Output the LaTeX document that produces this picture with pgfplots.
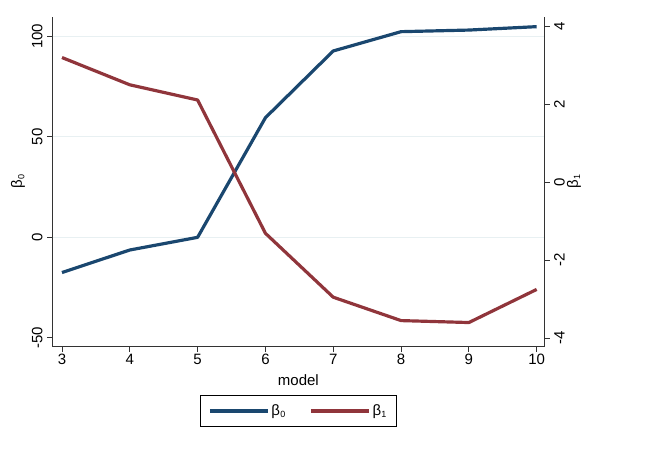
\documentclass[border=0pt]{standalone}
\usepackage{fontspec}
\setmainfont{Liberation Sans}
\usepackage{pgfplots}
\pgfplotsset{compat=1.18}
\definecolor{sblue}{RGB}{26,71,111}
\definecolor{sred}{RGB}{144,53,59}
\definecolor{sgrid}{RGB}{232,240,242}
\newcommand{\bsub}[1]{β\kern0.3bp\raisebox{-0.3ex}{\fontsize{9bp}{10bp}\selectfont #1}}
\begin{document}
\fontsize{15bp}{18bp}\selectfont
\begin{tikzpicture}
\path[use as bounding box] (0bp,0bp) rectangle (666bp,450bp);
\pgfplotsset{
  every axis/.append style={font=\fontsize{15bp}{18bp}\selectfont},
  /pgf/number format/assume math mode=true,
  common/.style={
    at={(52.7bp,103.3bp)}, anchor=south west,
    scale only axis, width=491.3bp, height=329.7bp,
    xmin=2.863, xmax=10.108,
    axis line style={-, black!80, line width=0.8pt},
    tick align=outside, major tick length=5.5bp,
    tick style={black!80, line width=0.8pt},
  },
}
\begin{axis}[common,
  ymin=-54.4, ymax=109.6,
  axis x line*=bottom, axis y line*=left,
  xtick={3,4,5,6,7,8,9,10},
  ytick={-50,0,50,100},
  yticklabel style={rotate=90, anchor=south, inner sep=4.5bp},
  xticklabel style={inner sep=2bp},
  extra y ticks={0,50,100},
  extra y tick labels={},
  extra y tick style={grid=major, major grid style={sgrid, line width=1pt}, major tick length=0pt},
  xlabel={model},
  xlabel style={at={(axis description cs:0.5,-0.1)}, anchor=center},
  ylabel={\bsub{0}},
  ylabel style={at={(axis description cs:-0.0706,0.5)}, anchor=center},
]
\addplot[sblue, line width=3.2pt, line join=round] coordinates {
(3,-17.5) (4,-6.3) (5,0) (6,59.5) (7,92.7) (8,102.3) (9,103.1) (10,104.8)
};
\end{axis}
\begin{axis}[common,
  ymin=-4.22, ymax=4.24,
  axis y line*=right, axis x line=none,
  ytick={-4,-2,0,2,4},
  yticklabels={-4,-2,0,2,4},
  yticklabel style={rotate=90, anchor=north, inner sep=4.5bp},
  ylabel={\bsub{1}},
  ylabel style={at={(axis description cs:1.061,0.5)}, anchor=center},
  legend columns=2,
  legend style={at={(axis description cs:0.5,-0.1465)}, anchor=north,
    draw=black, line width=0.8pt, inner xsep=8bp, inner ysep=7bp,
    /tikz/every even column/.append style={column sep=22bp}},
  legend image code/.code={\draw[#1] (0bp,0bp) -- (58bp,0bp);},
]
\addlegendimage{sblue, line width=3.2pt}
\addlegendentry{\bsub{0}}
\addplot[sred, line width=3.2pt, line join=round] coordinates {
(3,3.20) (4,2.50) (5,2.11) (6,-1.31) (7,-2.95) (8,-3.55) (9,-3.60) (10,-2.75)
};
\addlegendentry{\bsub{1}}
\end{axis}
\end{tikzpicture}
\end{document}
